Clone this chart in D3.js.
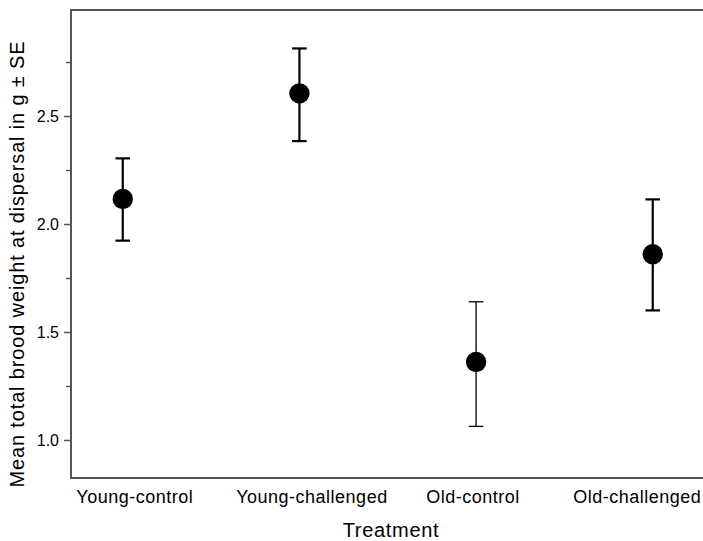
<!DOCTYPE html>
<html>
<head>
<meta charset="utf-8">
<script src="https://cdn.jsdelivr.net/npm/d3@7"></script>
<style>
  html, body { margin: 0; padding: 0; background: #fff; }
  svg { display: block; }
  text { font-family: "Liberation Sans", Arial, sans-serif; fill: #000; }
</style>
</head>
<body>
<svg id="chart" width="703" height="541"></svg>
<script>
// ---- data ----
const categories = ["Young-control", "Young-challenged", "Old-control", "Old-challenged"];
const means      = [2.116, 2.605, 1.361, 1.860];
const lowerSE    = [1.923, 2.384, 1.063, 1.600];
const upperSE    = [2.304, 2.813, 1.640, 2.114];
const yTickValues = [1.0, 1.5, 2.0, 2.5];
const yMinorTickValues = [1.25, 1.75, 2.25, 2.75];
const xTitle = "Treatment";
const yTitle = "Mean total brood weight at dispersal in g ± SE";

// ---- style / layout ----
const barWidths = [2.2, 2.2, 1.3, 2.2];
const labelNudge = [11.5, 12, -3.5, -16];
const plot = { left: 71, right: 704.5, top: 10, bottom: 478 };

const svg = d3.select("#chart");

const x = d3.scalePoint()
  .domain(categories)
  .range([plot.left, plot.right])
  .padding(0.293);

const y = d3.scaleLinear()
  .domain([0.824, 2.991])
  .range([plot.bottom, plot.top]);

// frame
svg.append("rect")
  .attr("x", plot.left).attr("y", plot.top)
  .attr("width", plot.right - plot.left)
  .attr("height", plot.bottom - plot.top)
  .attr("fill", "none")
  .attr("stroke", "#555")
  .attr("stroke-width", 2);

// y axis (major)
const yAxis = svg.append("g")
  .attr("transform", `translate(${plot.left},0)`)
  .call(d3.axisLeft(y).tickValues(yTickValues).tickFormat(d3.format(".1f")).tickSize(7).tickPadding(5));
yAxis.select(".domain").remove();
yAxis.selectAll(".tick line").attr("stroke", "#555").attr("stroke-width", 1.5);
yAxis.selectAll(".tick text")
  .style("font-size", "16px")
  .style("font-family", "'Liberation Sans', Arial, sans-serif")
  .attr("fill", "#000");

// y axis (minor)
const yMinor = svg.append("g")
  .attr("transform", `translate(${plot.left},0)`)
  .call(d3.axisLeft(y).tickValues(yMinorTickValues).tickFormat("").tickSize(5));
yMinor.select(".domain").remove();
yMinor.selectAll(".tick line").attr("stroke", "#555").attr("stroke-width", 1.5);

// x axis labels
const xAxis = svg.append("g")
  .attr("transform", `translate(0,${plot.bottom})`)
  .call(d3.axisBottom(x).tickSize(0).tickPadding(12));
xAxis.select(".domain").remove();
xAxis.selectAll(".tick text")
  .style("font-size", "18px")
  .style("letter-spacing", "0.5px")
  .style("font-family", "'Liberation Sans', Arial, sans-serif")
  .attr("fill", "#000")
  .attr("dx", (d, i) => labelNudge[i]);

// axis titles
svg.append("text")
  .attr("x", 391)
  .attr("y", 536.5)
  .attr("text-anchor", "middle")
  .style("font-size", "20px")
  .style("letter-spacing", "0.7px")
  .text(xTitle);

svg.append("text")
  .attr("transform", "translate(24,264) rotate(-90)")
  .attr("text-anchor", "middle")
  .style("font-size", "20px")
  .style("letter-spacing", "0.85px")
  .text(yTitle);

// error bars
const rows = categories.map((c, i) => ({ c, m: means[i], lo: lowerSE[i], hi: upperSE[i], w: barWidths[i] }));
const capHalf = 7.3;
const eb = svg.append("g").selectAll("g").data(rows).join("g");
eb.append("line")
  .attr("x1", d => x(d.c)).attr("x2", d => x(d.c))
  .attr("y1", d => y(d.lo)).attr("y2", d => y(d.hi))
  .attr("stroke", "#000").attr("stroke-width", d => d.w);
eb.append("line")
  .attr("x1", d => x(d.c) - capHalf).attr("x2", d => x(d.c) + capHalf)
  .attr("y1", d => y(d.hi)).attr("y2", d => y(d.hi))
  .attr("stroke", "#000").attr("stroke-width", d => d.w);
eb.append("line")
  .attr("x1", d => x(d.c) - capHalf).attr("x2", d => x(d.c) + capHalf)
  .attr("y1", d => y(d.lo)).attr("y2", d => y(d.lo))
  .attr("stroke", "#000").attr("stroke-width", d => d.w);

// means
svg.append("g").selectAll("circle").data(rows).join("circle")
  .attr("cx", d => x(d.c))
  .attr("cy", d => y(d.m))
  .attr("r", 10.2)
  .attr("fill", "#000");
</script>
</body>
</html>
